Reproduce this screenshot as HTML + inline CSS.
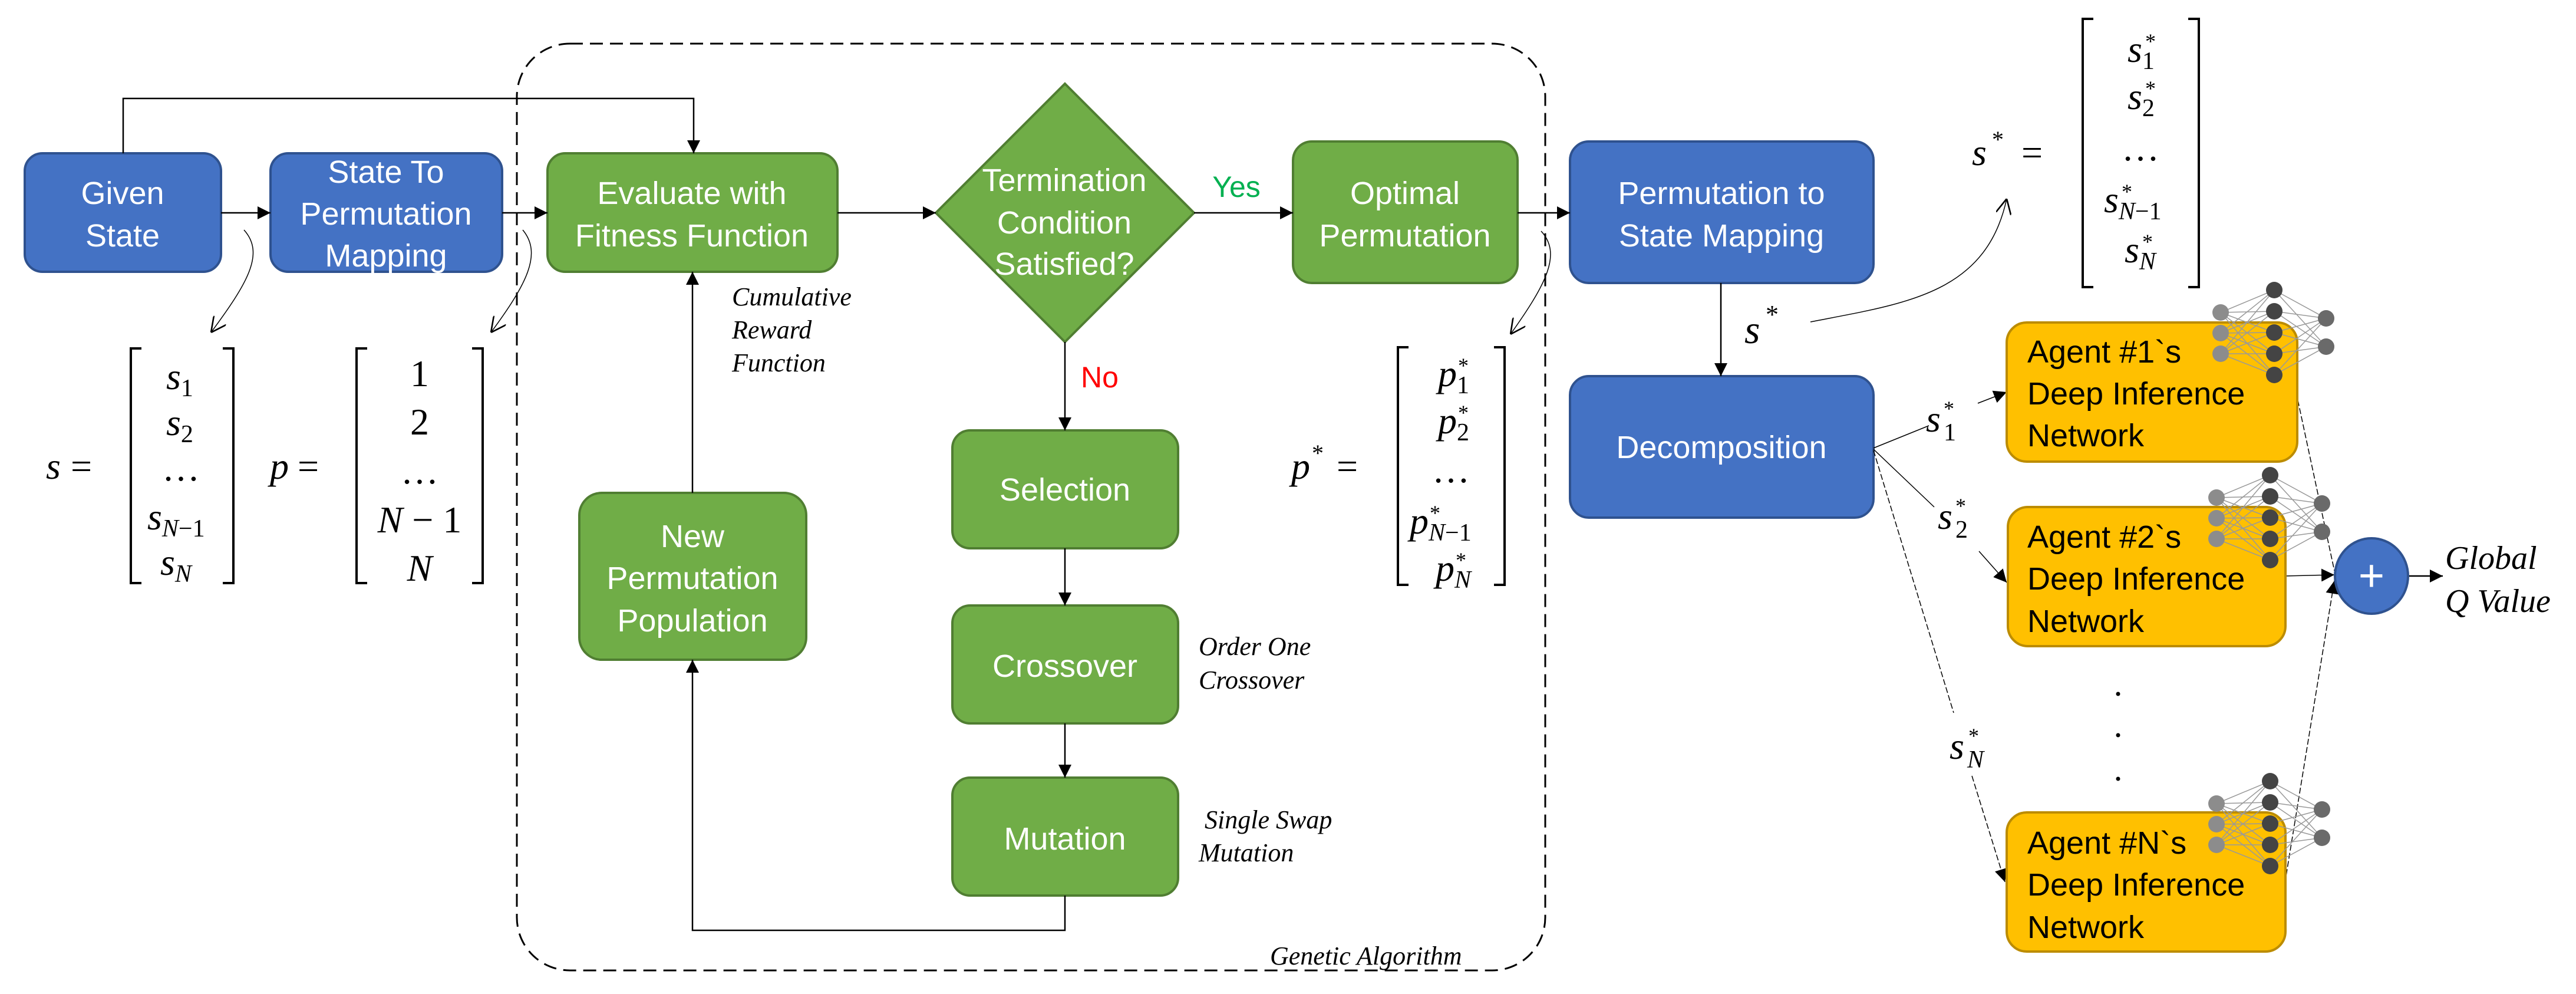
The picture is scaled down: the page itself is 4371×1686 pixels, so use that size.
<!DOCTYPE html>
<html><head><meta charset="utf-8"><style>html,body{margin:0;padding:0;background:#fff}svg{display:block}</style></head>
<body>
<svg xmlns="http://www.w3.org/2000/svg" width="4371" height="1686" viewBox="0 0 4371 1686">
<defs>
<marker id="ar2" viewBox="0 0 10 10" refX="10" refY="5" markerWidth="22" markerHeight="22" orient="auto" markerUnits="userSpaceOnUse"><path d="M0,0L10,5L0,10z" fill="#000"/></marker>
<marker id="op" viewBox="0 0 10 10" refX="10" refY="5" markerWidth="26" markerHeight="26" orient="auto" markerUnits="userSpaceOnUse"><path d="M0,0L10,5L0,10" fill="none" stroke="#000" stroke-width="1"/></marker>
<g id="net">
<g stroke="#999" stroke-width="1.5">
<path d="M-91,38L0,0M-91,38L0,36M-91,38L0,72M-91,38L0,108M-91,38L0,144M-91,73L0,0M-91,73L0,36M-91,73L0,72M-91,73L0,108M-91,73L0,144M-91,108L0,0M-91,108L0,36M-91,108L0,72M-91,108L0,108M-91,108L0,144"/>
<path d="M0,0L88,48M0,36L88,48M0,72L88,48M0,108L88,48M0,144L88,48M0,0L88,96M0,36L88,96M0,72L88,96M0,108L88,96M0,144L88,96"/>
</g>
<circle cx="-91" cy="38" r="14" fill="#8c8c8c"/><circle cx="-91" cy="73" r="14" fill="#8c8c8c"/><circle cx="-91" cy="108" r="14" fill="#8c8c8c"/>
<circle cx="0" cy="0" r="14" fill="#444"/><circle cx="0" cy="36" r="14" fill="#444"/><circle cx="0" cy="72" r="14" fill="#444"/><circle cx="0" cy="108" r="14" fill="#444"/><circle cx="0" cy="144" r="14" fill="#444"/>
<circle cx="88" cy="48" r="14" fill="#6a6a6a"/><circle cx="88" cy="96" r="14" fill="#6a6a6a"/>
</g>
</defs>

<rect x="877" y="74" width="1745" height="1572" rx="90" fill="none" stroke="#000" stroke-width="3" stroke-dasharray="22,12"/>

<g font-family="Liberation Sans, sans-serif" font-size="54" fill="#fff" text-anchor="middle">
<rect x="42" y="260" width="333" height="201" rx="30" fill="#4472C4" stroke="#2F528F" stroke-width="4"/>
<text x="208" y="346">Given</text><text x="208" y="418">State</text>
<rect x="459" y="260" width="393" height="201" rx="30" fill="#4472C4" stroke="#2F528F" stroke-width="4"/>
<text x="655" y="310">State To</text><text x="655" y="381">Permutation</text><text x="655" y="452">Mapping</text>
<rect x="2664" y="240" width="515" height="240" rx="32" fill="#4472C4" stroke="#2F528F" stroke-width="4"/>
<text x="2921" y="346">Permutation to</text><text x="2921" y="418">State Mapping</text>
<rect x="2664" y="638" width="515" height="240" rx="32" fill="#4472C4" stroke="#2F528F" stroke-width="4"/>
<text x="2921" y="777">Decomposition</text>

<rect x="929" y="260" width="492" height="201" rx="30" fill="#70AD47" stroke="#507E32" stroke-width="4"/>
<text x="1174" y="346">Evaluate with</text><text x="1174" y="418">Fitness Function</text>
<path d="M1807,142L2026,361L1807,580L1588,361z" fill="#70AD47" stroke="#507E32" stroke-width="4"/>
<text x="1806" y="324">Termination</text><text x="1806" y="396">Condition</text><text x="1806" y="466">Satisfied?</text>
<rect x="2194" y="240" width="381" height="240" rx="32" fill="#70AD47" stroke="#507E32" stroke-width="4"/>
<text x="2384" y="346">Optimal</text><text x="2384" y="418">Permutation</text>
<rect x="1616" y="730" width="383" height="200" rx="30" fill="#70AD47" stroke="#507E32" stroke-width="4"/>
<text x="1807" y="849">Selection</text>
<rect x="1616" y="1027" width="383" height="200" rx="30" fill="#70AD47" stroke="#507E32" stroke-width="4"/>
<text x="1807" y="1148">Crossover</text>
<rect x="1616" y="1319" width="383" height="200" rx="30" fill="#70AD47" stroke="#507E32" stroke-width="4"/>
<text x="1807" y="1441">Mutation</text>
<rect x="983" y="836" width="385" height="283" rx="38" fill="#70AD47" stroke="#507E32" stroke-width="4"/>
<text x="1175" y="928">New</text><text x="1175" y="999">Permutation</text><text x="1175" y="1071">Population</text>
</g>

<g font-family="Liberation Sans, sans-serif" font-size="50">
<text x="2098" y="334" fill="#00B050" text-anchor="middle">Yes</text>
<text x="1866" y="657" fill="#FF0000" text-anchor="middle">No</text>
</g>

<g stroke="#000" stroke-width="2.5" fill="none" marker-end="url(#ar2)">
<path d="M375,361H459"/>
<path d="M852,361H929"/>
<path d="M209,260V167H1177V260"/>
<path d="M1421,361H1588"/>
<path d="M2026,361H2194"/>
<path d="M1807,580V730"/>
<path d="M1807,930V1027"/>
<path d="M1807,1227V1319"/>
<path d="M1807,1519V1578H1175V1119"/>
<path d="M1175,836V461"/>
<path d="M2575,361H2664"/>
<path d="M2920,480V638"/>
<path d="M4086,977H4145"/>
</g>

<g stroke="#000" stroke-width="1.5" fill="none" marker-end="url(#op)">
<path d="M414,390C450,430 420,480 358,564"/>
<path d="M887,390C920,430 895,480 833,564"/>
<path d="M2615,392C2650,430 2625,480 2563,567"/>
<path d="M3072,546C3230,515 3370,500 3405,337"/>
</g>

<g stroke="#000" stroke-width="1.5" fill="none">
<path d="M3179,760L3273,722"/>
<path d="M3356,684L3405,665" marker-end="url(#ar2)"/>
<path d="M3179,762L3282,860"/>
<path d="M3358,935L3405,988" marker-end="url(#ar2)"/>
<path d="M3179,764L3315,1209" stroke-dasharray="10,4"/>
<path d="M3346,1316L3402,1496" stroke-dasharray="10,4" marker-end="url(#ar2)"/>
<path d="M3896,665L3961,968" stroke-dasharray="10,4"/>
<path d="M3877,977L3961,975" marker-end="url(#ar2)"/>
<path d="M3877,1498L3961,985" stroke-dasharray="10,4" marker-end="url(#ar2)"/>
</g>

<g font-family="Liberation Sans, sans-serif" font-size="54" fill="#000">
<rect x="3405" y="547" width="493" height="236" rx="34" fill="#FFC000" stroke="#BC8C00" stroke-width="4"/>
<text x="3440" y="615">Agent #1`s</text><text x="3440" y="686">Deep Inference</text><text x="3440" y="757">Network</text>
<rect x="3407" y="860" width="471" height="236" rx="34" fill="#FFC000" stroke="#BC8C00" stroke-width="4"/>
<text x="3440" y="929">Agent #2`s</text><text x="3440" y="1000">Deep Inference</text><text x="3440" y="1072">Network</text>
<rect x="3405" y="1378" width="473" height="236" rx="34" fill="#FFC000" stroke="#BC8C00" stroke-width="4"/>
<text x="3440" y="1448">Agent #N`s</text><text x="3440" y="1519">Deep Inference</text><text x="3440" y="1591">Network</text>
</g>
<use href="#net" x="3859" y="492"/>
<use href="#net" x="3852" y="806"/>
<use href="#net" x="3852" y="1325"/>

<ellipse cx="4024" cy="977" rx="62" ry="64" fill="#4472C4" stroke="#2F528F" stroke-width="4"/>
<text x="4024" y="1002" font-family="Liberation Sans, sans-serif" font-size="76" fill="#fff" text-anchor="middle">+</text>

<g fill="#000"><circle cx="3594" cy="1177" r="3.5"/><circle cx="3594" cy="1247" r="3.5"/><circle cx="3594" cy="1321" r="3.5"/></g>

<g font-family="Liberation Serif, serif" font-style="italic" font-size="44" fill="#000">
<text x="1242" y="518">Cumulative</text><text x="1242" y="574">Reward</text><text x="1242" y="630">Function</text>
<text x="2034" y="1111">Order One</text><text x="2034" y="1168">Crossover</text>
<text x="2044" y="1405">Single Swap</text><text x="2034" y="1461">Mutation</text>
<text x="2155" y="1636">Genetic Algorithm</text>
<text x="4149" y="965" font-size="56">Global</text><text x="4149" y="1038" font-size="56">Q Value</text>
</g>

<g font-family="Liberation Serif, serif" font-size="64" fill="#000">
<g fill="none" stroke="#000" stroke-width="4">
<path d="M240,591H222V989H240"/><path d="M378,591H396V989H378"/>
<path d="M623,591H605V989H623"/><path d="M801,591H819V989H801"/>
<path d="M2390,589H2372V992H2390"/><path d="M2535,589H2553V992H2535"/>
<path d="M3552,32H3534V487H3552"/><path d="M3713,32H3731V487H3713"/>
</g>
<text x="78" y="812" font-style="italic">s</text><text x="120" y="812">=</text>
<g font-style="italic">
<text x="282" y="660">s<tspan font-size="42" dy="12" font-style="normal">1</tspan></text>
<text x="282" y="738">s<tspan font-size="42" dy="12" font-style="normal">2</tspan></text>
<text x="275" y="815" font-style="normal">…</text>
<text x="250" y="898">s<tspan font-size="42" dy="12">N</tspan><tspan font-size="42" font-style="normal">−1</tspan></text>
<text x="272" y="975">s<tspan font-size="42" dy="12">N</tspan></text>
</g>
<text x="458" y="812" font-style="italic">p</text><text x="505" y="812">=</text>
<g text-anchor="middle">
<text x="712" y="655">1</text><text x="712" y="737">2</text><text x="712" y="820">…</text>
<text x="712" y="903"><tspan font-style="italic">N</tspan> − 1</text>
<text x="712" y="985" font-style="italic">N</text>
</g>
<text x="2191" y="812" font-style="italic">p</text><text x="2226" y="782" font-size="40">*</text><text x="2268" y="812">=</text>
<g font-style="italic">
<text x="2440" y="655">p<tspan font-size="42" dy="12" font-style="normal">1</tspan></text><text x="2474" y="632" font-size="36" font-style="normal">*</text>
<text x="2440" y="735">p<tspan font-size="42" dy="12" font-style="normal">2</tspan></text><text x="2474" y="712" font-size="36" font-style="normal">*</text>
<text x="2430" y="818" font-style="normal">…</text>
<text x="2392" y="905">p<tspan font-size="42" dy="12">N</tspan><tspan font-size="42" font-style="normal">−1</tspan></text><text x="2426" y="882" font-size="36" font-style="normal">*</text>
<text x="2436" y="985">p<tspan font-size="42" dy="12">N</tspan></text><text x="2470" y="962" font-size="36" font-style="normal">*</text>
</g>
<text x="3346" y="280" font-style="italic">s</text><text x="3380" y="250" font-size="40">*</text><text x="3430" y="280">=</text>
<g font-style="italic">
<text x="3610" y="105">s<tspan font-size="42" dy="12" font-style="normal">1</tspan></text><text x="3640" y="82" font-size="36" font-style="normal">*</text>
<text x="3610" y="185">s<tspan font-size="42" dy="12" font-style="normal">2</tspan></text><text x="3640" y="162" font-size="36" font-style="normal">*</text>
<text x="3600" y="272" font-style="normal">…</text>
<text x="3570" y="360">s<tspan font-size="42" dy="12">N</tspan><tspan font-size="42" font-style="normal">−1</tspan></text><text x="3600" y="337" font-size="36" font-style="normal">*</text>
<text x="3605" y="445">s<tspan font-size="42" dy="12">N</tspan></text><text x="3635" y="422" font-size="36" font-style="normal">*</text>
</g>
<text x="2960" y="582" font-style="italic" font-size="68">s</text><text x="2996" y="548" font-size="44">*</text>
<text x="3268" y="732" font-style="italic">s</text><text x="3298" y="747" font-size="42">1</text><text x="3298" y="705" font-size="36">*</text>
<text x="3288" y="897" font-style="italic">s</text><text x="3318" y="912" font-size="42">2</text><text x="3318" y="870" font-size="36">*</text>
<text x="3308" y="1287" font-style="italic">s</text><text x="3338" y="1302" font-size="42" font-style="italic">N</text><text x="3340" y="1260" font-size="36">*</text>
</g>
</svg>
</body></html>
